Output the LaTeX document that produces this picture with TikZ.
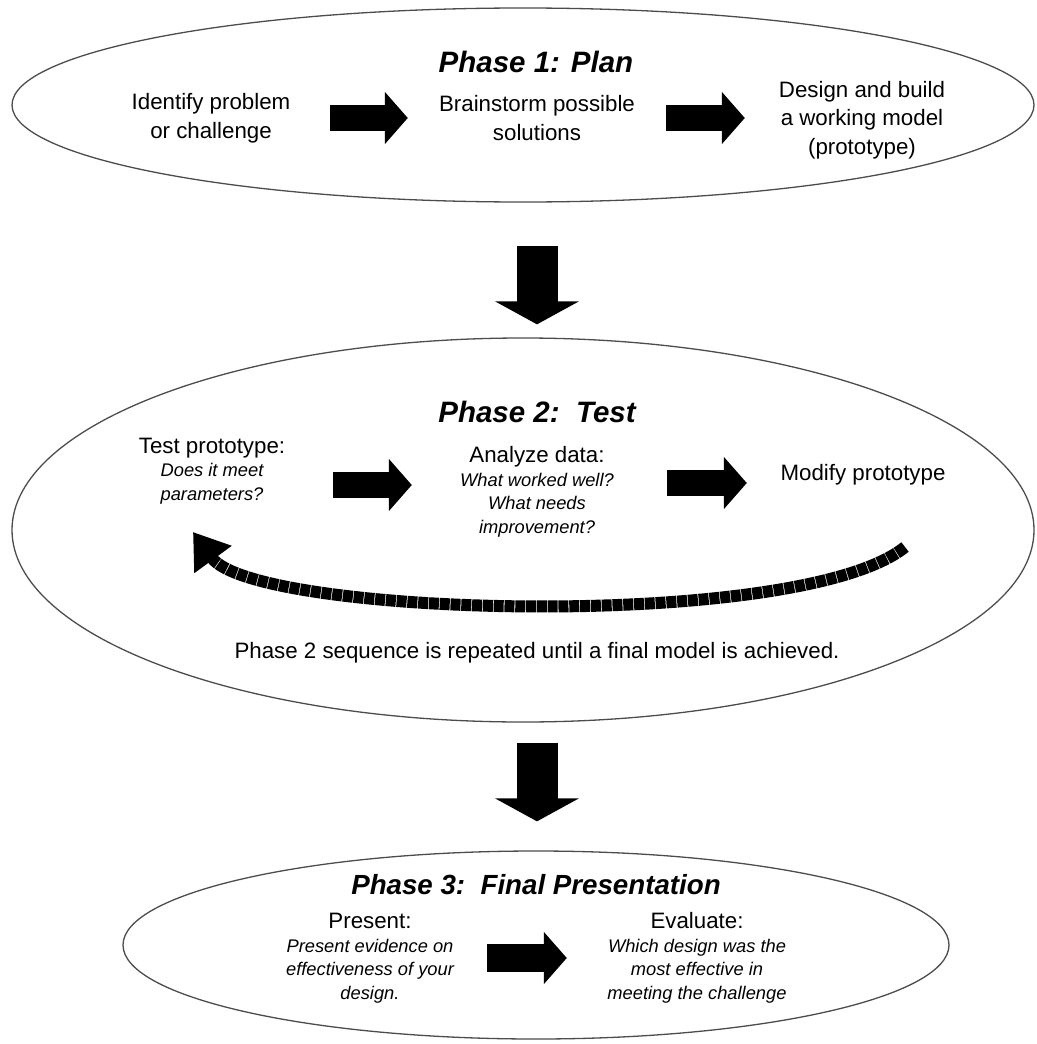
\documentclass[tikz,border=0pt]{standalone}
\usepackage{fontspec}
\setmainfont{Liberation Sans}
\setsansfont{Liberation Sans}
\usepackage{tikz}
\usetikzlibrary{positioning,arrows.meta,shapes,calc}
\tikzset{
	every picture/.style={/utils/exec={\sffamily}},
	every node/.style = {inner sep = 0, align=flush center},
	phase/.style = {ellipse, draw=black!70, line width=1.3pt},
	phasetitle/.style = {font=\fontsize{29.5}{34}\selectfont\bfseries\itshape},
	stepbox/.style = {font=\fontsize{22.3}{28.5}\selectfont},
	blockarrow/.style = {draw, line width=25.5pt, -{Triangle[length=23pt,width=51pt]}},
	downarrow/.style = {draw, line width=41pt, -{Triangle[length=23pt,width=83pt]}},
	looparrow/.style = {draw, line width=12pt, dash pattern=on 10pt off 0.8pt, -{Triangle[length=34pt,width=44pt]}},
	>=latex
}
\newcommand{\question}[1]{{\fontsize{18.3}{23.5}\selectfont\itshape #1\par}}

\begin{document}
\begin{tikzpicture}[x=1pt,y=-1pt]
		\useasboundingbox (0,0) rectangle (1036,1044);
		% the three phases
		\node[phase, minimum width=1022pt, minimum height=194pt] (phaseone) at (523,105) {};
		\node[phase, minimum width=1022pt, minimum height=384pt] (phasetwo) at (523,530) {};
		\node[phase, minimum width=826pt, minimum height=188pt] (phasethree) at (536,945) {};
		
		\node[phasetitle] (plantitle) at (536,62) {Phase 1: Plan};
		\node[phasetitle] (testtitle) at (537,412) {Phase 2:\ \ Test};
		\node[phasetitle, font=\fontsize{27.7}{32}\selectfont\bfseries\itshape] (finaltitle) at (536,885) {Phase 3:\ \ Final Presentation};
		
		% phase 1
		\node[stepbox, text width=238pt] (ident) at (211,118) {Identify problem\\or challenge};
		\node[stepbox, text width=258pt] (brain) at (537,118) {Brainstorm possible\\solutions};
		\node[stepbox, text width=234pt] (design) at (862,120) {Design and build\\a working model\\(prototype)};
		
		\draw[blockarrow] (ident.east) -- (ident.east -| brain.west);
		\draw[blockarrow] (brain.east) -- (brain.east -| design.west);
		
		% phase 2
		\node[stepbox, text width=242pt] (testproto) at (212,471) {Test prototype:\par\question{Does it meet\\parameters?}};
		\node[stepbox, text width=250pt] (analyze) at (537,492) {Analyze data:\par\question{What worked well?\\What needs\\improvement?}};
		\node[stepbox, text width=232pt] (modify) at (863,475) {Modify prototype};
		\node[stepbox] (repeatnote) at (537,653) {Phase 2 sequence is repeated until a final model is achieved.};
		
		\draw[blockarrow] ($(testproto.east)+(0,14)$) -- ($(testproto.east -| analyze.west)+(0,14)$);
		\draw[blockarrow] ($(analyze.east)+(5,-9)$) -- ($(analyze.east -| modify.west)+(0,-9)$);
		
		\coordinate (loopstart) at (905,547);
		\coordinate (loopend) at (193,532);
		\draw[looparrow] (loopstart) .. controls (800,632) and (255,617) .. (loopend);
		
		% phase 3
		\node[stepbox, text width=234pt] (present) at (370,958) {Present:\par\question{Present evidence on\\effectiveness of your\\design.}};
		\node[stepbox, text width=260pt] (evaluate) at (697,958) {Evaluate:\par\question{Which design was the\\most effective in\\meeting the challenge}};
		
		\draw[blockarrow, line width=28pt] (present) -- (evaluate);
		
		% between the phases
		\draw[downarrow, shorten <=43pt, shorten >=13pt] (phaseone.south -| testtitle) -- (phasetwo.north -| testtitle);
		\draw[downarrow, shorten <=20pt, shorten >=29pt] (phasetwo.south -| testtitle) -- (phasethree.north -| testtitle);
\end{tikzpicture}
\end{document}
